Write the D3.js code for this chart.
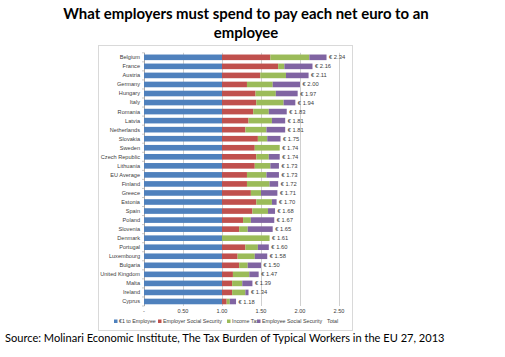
<!DOCTYPE html>
<html><head><meta charset="utf-8">
<script src="https://cdn.jsdelivr.net/npm/d3@7"></script>
<style>body{margin:0;background:#fff}svg{display:block}</style>
</head><body>
<svg id="c" width="505" height="357"></svg>
<script>
const countries = ["Belgium","France","Austria","Germany","Hungary","Italy","Romania","Latvia","Netherlands","Slovakia","Sweden","Czech Republic","Lithuania","EU Average","Finland","Greece","Estonia","Spain","Poland","Slovenia","Denmark","Portugal","Luxembourg","Bulgaria","United Kingdom","Malta","Ireland","Cyprus"];
const toEmployee = [1,1,1,1,1,1,1,1,1,1,1,1,1,1,1,1,1,1,1,1,1,1,1,1,1,1,1,1];
const employerSS = [0.62,0.72,0.49,0.32,0.43,0.44,0.40,0.34,0.30,0.46,0.42,0.44,0.42,0.32,0.32,0.37,0.44,0.39,0.27,0.22,0,0.30,0.20,0.22,0.14,0.13,0.13,0.06];
const incomeTax  = [0.50,0.08,0.33,0.33,0.26,0.35,0.20,0.30,0.27,0.12,0.32,0.16,0.20,0.25,0.29,0.13,0.20,0.20,0.10,0.11,0.61,0.16,0.22,0.11,0.21,0.13,0.17,0.04];
const employeeSS = [0.22,0.36,0.29,0.35,0.28,0.15,0.23,0.17,0.24,0.17,0,0.14,0.11,0.16,0.11,0.21,0.06,0.09,0.30,0.32,0,0.14,0.16,0.17,0.12,0.13,0.04,0.08];
const totals = [2.34,2.16,2.11,2.00,1.97,1.94,1.83,1.81,1.81,1.75,1.74,1.74,1.73,1.73,1.72,1.71,1.70,1.68,1.67,1.65,1.61,1.60,1.58,1.50,1.47,1.39,1.34,1.18];
const xTicks = [0,0.5,1,1.5,2,2.5];
const xTickLabels = ["-","0.50","1.00","1.50","2.00","2.50"];
const seriesNames = ["€1 to Employee","Employer Social Security","Income Tax","Employee Social Security"];
const colors = ["#4F81BD","#C0504D","#9BBB59","#8064A2"];

const svg = d3.select("#c");
const font = "Liberation Sans, Arial, sans-serif";
const titleFont = "Lato, Open Sans, sans-serif";

function fitText(sel, targetWidth, baseSize){
  sel.attr("font-size", baseSize);
  const w = sel.node().getComputedTextLength();
  sel.attr("font-size", baseSize * targetWidth / w);
}

// Title
const t1 = svg.append("text").attr("x",246).attr("y",19).attr("text-anchor","middle")
  .attr("font-family",titleFont).attr("font-weight","bold")
  .attr("fill","#000").text("What employers must spend to pay each net euro to an");
fitText(t1, 366, 16);
svg.append("text").attr("x",246).attr("y",38).attr("text-anchor","middle")
  .attr("font-family",titleFont).attr("font-weight","bold").attr("font-size",t1.attr("font-size"))
  .attr("fill","#000").text("employee");

// Chart frame
svg.append("rect").attr("x",98.5).attr("y",45.5).attr("width",254).attr("height",285)
  .attr("fill","none").attr("stroke","#d9d9d9").attr("stroke-width",1);

const x = d3.scaleLinear().domain([0,2.5]).range([144,339]);
const y = d3.scaleBand().domain(countries).range([52.8,306]).paddingInner(0.38).paddingOuter(0.19);

// gridlines
const g = svg.append("g");
g.selectAll("line.grid").data(xTicks).join("line")
  .attr("x1",d=>Math.round(x(d))+0.5).attr("x2",d=>Math.round(x(d))+0.5)
  .attr("y1",52.8).attr("y2",306).attr("stroke",(d,i)=>i===0?"#a6a6a6":"#d0d0d0").attr("stroke-width",1);
// category ticks
g.selectAll("line.ct").data(d3.range(countries.length+1)).join("line")
  .attr("x1",Math.round(x(0))-2).attr("x2",Math.round(x(0))+0.5)
  .attr("y1",i=>52.8+i*y.step()).attr("y2",i=>52.8+i*y.step()).attr("stroke","#a6a6a6").attr("stroke-width",0.6);

// stacked data
const rows = countries.map((c,i)=>({country:c, s0:toEmployee[i], s1:employerSS[i], s2:incomeTax[i], s3:employeeSS[i], total:totals[i]}));
const stack = d3.stack().keys(["s0","s1","s2","s3"])(rows);
svg.append("g").selectAll("g").data(stack).join("g").attr("fill",(d,i)=>colors[i])
  .selectAll("rect").data(d=>d).join("rect")
  .attr("x",d=>x(d[0])).attr("width",d=>Math.max(0,x(d[1])-x(d[0])))
  .attr("y",d=>y(d.data.country)).attr("height",y.bandwidth());

// country labels
svg.append("g").selectAll("text").data(countries).join("text")
  .attr("x",140).attr("y",d=>y(d)+y.bandwidth()/2).attr("dy","0.35em")
  .attr("text-anchor","end").attr("font-family",font).attr("font-size",5.6).attr("fill","#404040").text(d=>d);

// total labels
svg.append("g").selectAll("text").data(rows).join("text")
  .attr("x",d=>x(1+d.s1+d.s2+d.s3)+2.5).attr("y",d=>y(d.country)+y.bandwidth()/2).attr("dy","0.35em")
  .attr("font-family",font).attr("font-size",5.8).attr("fill","#404040").text(d=>"€ "+d3.format(".2f")(d.total));

// x axis labels
svg.append("g").selectAll("text").data(xTicks).join("text")
  .attr("x",d=>x(d)).attr("y",313).attr("text-anchor","middle")
  .attr("font-family",font).attr("font-size",5.6).attr("fill","#404040").text((d,i)=>xTickLabels[i]);

// legend
const legX = [114,158,227,257];
const lg = svg.append("g");
seriesNames.forEach((n,i)=>{
  lg.append("rect").attr("x",legX[i]).attr("y",319.5).attr("width",3.5).attr("height",3.5).attr("fill",colors[i]);
  lg.append("text").attr("x",legX[i]+5).attr("y",323).attr("font-family",font).attr("font-size",5.3).attr("fill","#404040").text(n);
});
lg.append("text").attr("x",327).attr("y",323).attr("font-family",font).attr("font-size",5.3).attr("fill","#404040").text("Total");

// source
const src = svg.append("text").attr("x",5).attr("y",342).attr("font-family",titleFont)
  .attr("fill","#000").text("Source: Molinari Economic Institute, The Tax Burden of Typical Workers in the EU 27, 2013");
fitText(src, 440, 13);
</script>
</body></html>
